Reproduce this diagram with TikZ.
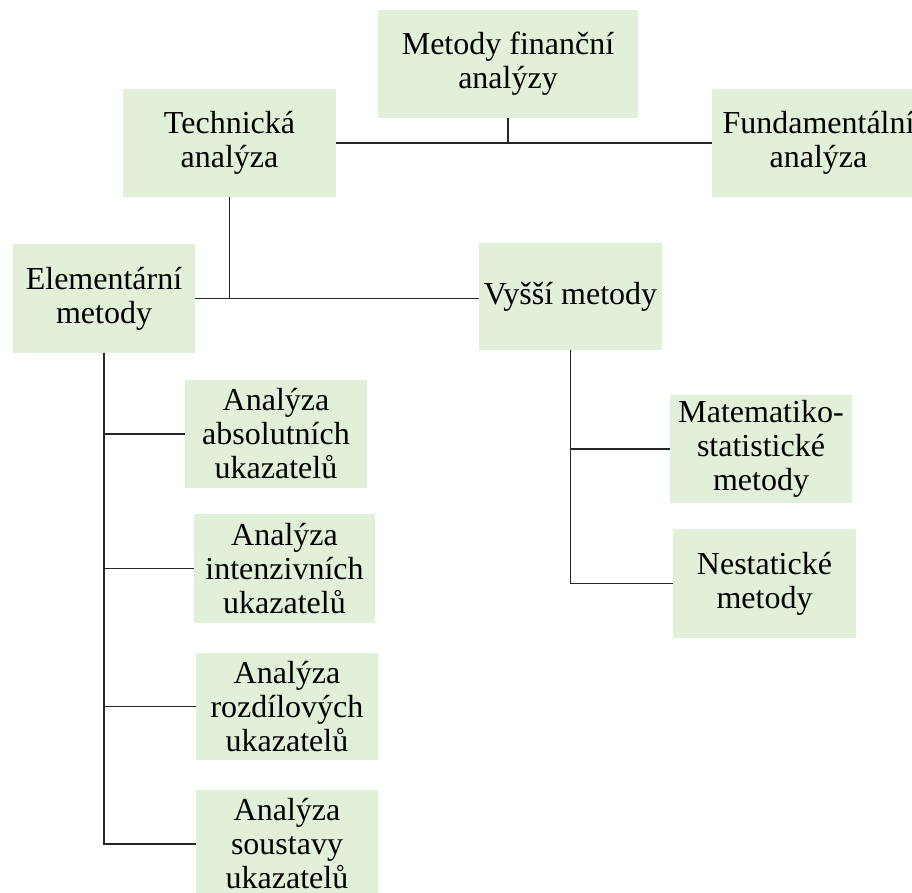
\documentclass[tikz,border=0pt]{standalone}
\usepackage{fontspec}
\setmainfont{Liberation Serif}
\definecolor{boxfill}{HTML}{E2EFD9}
\definecolor{linecol}{HTML}{262626}
\begin{document}
\begin{tikzpicture}[x=1pt,y=-1pt,
  box/.style={fill=boxfill, draw=none, inner sep=0pt, align=center,
    font=\fontsize{32}{34}\selectfont},
  link/.style={draw=linecol, line width=1.4pt}]
\useasboundingbox (0,0) rectangle (912,893);
\clip (0,0) rectangle (912,893);

% top level
\node[box, minimum width=260, minimum height=108] (root) at (508,64) {Metody finanční\\analýzy};
\node[box, minimum width=213, minimum height=108] (tech) at (229.5,143) {Technická\\analýza};
\node[box, minimum width=213, minimum height=108] (fund) at (818.5,143) {Fundamentální\\analýza};

% technical analysis branches
\node[box, minimum width=182, minimum height=108] (elem) at (104,298.5) {Elementární\\metody};
\node[box, minimum width=183, minimum height=107] (vyssi) at (570.5,296.5) {Vyšší metody};

% elementary methods
\node[box, minimum width=182, minimum height=108] (abs) at (276,434) {Analýza\\absolutních\\ukazatelů};
\node[box, minimum width=181, minimum height=109] (int) at (284.5,568.5) {Analýza\\intenzivních\\ukazatelů};
\node[box, minimum width=182, minimum height=107] (roz) at (287,706.5) {Analýza\\rozdílových\\ukazatelů};
\node[box, minimum width=182, minimum height=108] (sou) at (287,844) {Analýza\\soustavy\\ukazatelů};

% higher methods
\node[box, minimum width=182, minimum height=108] (mat) at (761,449) {Matematiko-\\statistické\\metody};
\node[box, minimum width=183, minimum height=109] (nes) at (764.5,583.5) {Nestatické\\metody};

% connectors
\draw[link] (tech.east) -- (fund.west);
\draw[link] (root.south) -- (root.south |- tech.east);

\draw[link] (elem.east) -- (elem.east -| vyssi.west);
\draw[link] (tech.south) -- (tech.south |- elem.east);

\draw[link] (elem.south) -- (elem.south |- sou.west) -- (sou.west);
\draw[link] (elem.south |- abs.west) -- (abs.west);
\draw[link] (elem.south |- int.west) -- (int.west);
\draw[link] (elem.south |- roz.west) -- (roz.west);

\draw[link] (vyssi.south) -- (vyssi.south |- nes.west) -- (nes.west);
\draw[link] (vyssi.south |- mat.west) -- (mat.west);
\end{tikzpicture}
\end{document}
